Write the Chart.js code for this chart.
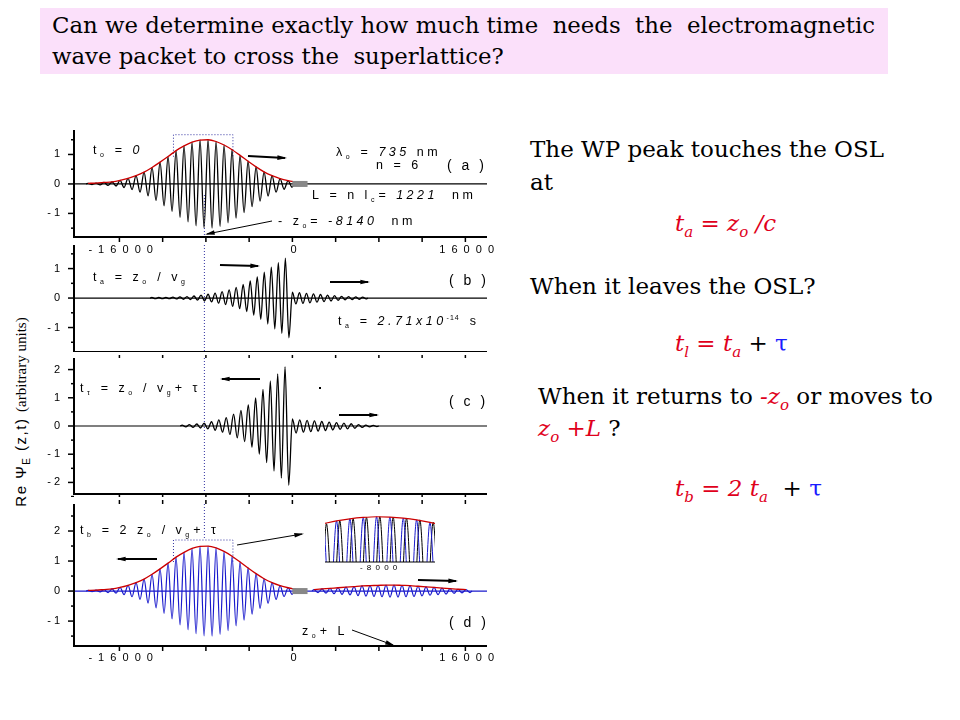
<!DOCTYPE html>
<html><head><meta charset="utf-8">
<script src="https://cdn.jsdelivr.net/npm/chart.js@4/dist/chart.umd.min.js"></script>
<style>
body{margin:0;width:960px;height:720px;background:#fff;position:relative;overflow:hidden;font-family:"DejaVu Serif",serif}
canvas{position:absolute;left:0}
.t{position:absolute;font-size:23px;color:#000;white-space:nowrap}
.r{color:#e0001b;font-style:italic}
.b{color:#1a1aff}
sub{font-size:15px}
</style></head><body>
<div style="position:absolute;left:40px;top:8px;width:836px;height:62px;background:#fbe0fa;padding:2px 0 2px 12px;font-size:22.8px;line-height:31px;white-space:nowrap">Can we determine exactly how much time&nbsp; needs&nbsp; the&nbsp; electromagnetic<br>wave packet to cross the&nbsp; superlattice?</div>
<div class="t" style="left:530px;top:136px">The WP peak touches the OSL</div>
<div class="t" style="left:530px;top:169px">at</div>
<div class="t r" style="left:675px;top:210px">t<sub>a</sub> = z<sub>o</sub> /c</div>
<div class="t" style="left:530px;top:273px">When it leaves the OSL?</div>
<div class="t" style="left:675px;top:330px"><span class="r">t<sub>l</sub> = t<sub>a</sub></span> + <span class="b">τ</span></div>
<div class="t" style="left:538px;top:383px">When it returns to <span class="r">-z<sub>o</sub></span> or moves to</div>
<div class="t" style="left:538px;top:415px"><span class="r">z<sub>o</sub> +L</span> ?</div>
<div class="t" style="left:675px;top:475px"><span class="r">t<sub>b</sub> = 2 t<sub>a</sub></span>&nbsp; + <span class="b">τ</span></div>
<div style="position:absolute;left:-88px;top:402px;width:220px;text-align:center;transform:rotate(-90deg);font-size:15px;font-family:'Liberation Sans';letter-spacing:1.5px;white-space:nowrap">Re Ψ<sub style="font-size:10px">E</sub> (z,t) <span style="font-family:'Liberation Serif';letter-spacing:0">(arbitrary units)</span></div>
<canvas id="ca" width="500" height="140" style="top:120px"></canvas>
<canvas id="cb" width="500" height="112" style="top:240px"></canvas>
<canvas id="cc" width="500" height="142" style="top:355px"></canvas>
<canvas id="cd" width="500" height="170" style="top:500px"></canvas>
<canvas id="ci" width="500" height="60" style="top:510px"></canvas>
<script>
// ---- data ----
const xTicks = [-16000,-12000,-8000,-4000,0,4000,8000,12000,16000];
const xLabels = [-16000,0,16000];
const zo = -8140;
const Lbar = [0,1400];
const periodA = 740, startA = -18900;
const peaksA = [0.02,0.03,0.05,0.07,0.12,0.19,0.28,0.4,0.56,0.74,0.93,1.13,1.29,1.42,1.49,1.5,1.44,1.32,1.16,0.97,0.77,0.58,0.41,0.28,0.18,0.11,0.06];
const periodB = 650, startB = -13000;
const peaksB = [0.02,0.02,0.02,0.03,0.04,0.05,0.07,0.1,0.13,0.17,0.22,0.28,0.36,0.46,0.58,0.72,0.88,1.05,1.2,1.35,0.2,0.18,0.16,0.14,0.12,0.1,0.08,0.06,0.05,0.04,0.03];
const periodC = 680, startC = -10200;
const peaksC = [0.03,0.05,0.07,0.1,0.15,0.22,0.3,0.42,0.55,0.75,1.0,1.3,1.6,1.85,2.1,0.25,0.22,0.2,0.18,0.16,0.14,0.12,0.1,0.08,0.05,0.03,0.02];
const periodD = 740, startD = 2000;
const peaksD = [0.05,0.07,0.09,0.11,0.13,0.15,0.17,0.18,0.19,0.2,0.2,0.19,0.18,0.16,0.14,0.12,0.1,0.08,0.06,0.05];
const startI = -11100;
const peaksI = [1.3,1.38,1.44,1.48,1.5,1.49,1.46,1.41,1.34,1.25];
const peaksIblack = [1.3,1.38,1.44,1.48,1.5,1.49,1.46,1.41,1.34,1.25];

function wave(x0,P,amps){
  const pts=[{x:x0-P/4,y:0}];
  amps.forEach((a,i)=>{pts.push({x:x0+i*P,y:a});pts.push({x:x0+i*P+P/2,y:-a});});
  pts.push({x:x0+(amps.length-1)*P+P*0.75,y:0});
  return pts;
}
function env(x0,P,amps){return amps.map((a,i)=>({x:x0+i*P,y:a}));}
function line(data,color,w,extra){return Object.assign({data,borderColor:color,borderWidth:w,pointRadius:0,cubicInterpolationMode:'monotone',fill:false},extra||{});}

function sp(s){return String(s).split('').join(' ');}
function setF(ctx,o){ctx.font=(o.it?'italic ':'')+(o.size||12)+'px "Liberation Sans"';ctx.letterSpacing=(o.ls==null?2:o.ls)+'px';}
function txt(ctx,s,x,y,o){o=o||{};ctx.save();setF(ctx,o);ctx.fillStyle=o.c||'#000';ctx.textBaseline='middle';ctx.textAlign=o.al||'left';ctx.fillText(s,x,y);ctx.restore();}
function seq(ctx,x,y,parts){ctx.save();ctx.fillStyle='#000';ctx.textBaseline='middle';ctx.textAlign='left';
  parts.forEach(([s,k])=>{k=k||'';const o={size:12.5,ls:3.5,it:k.includes('i')};let dy=0;
    if(k.includes('s')){o.size=7;o.ls=1;dy=4;} if(k.includes('u')){o.size=7;o.ls=1;dy=-4;}
    setF(ctx,o);ctx.fillText(s,x,y+dy);x+=ctx.measureText(s).width+(k.includes('s')||k.includes('u')?3:0);});
  ctx.restore();}
function arrow(ctx,x1,y1,x2,y2,w){ctx.save();ctx.strokeStyle='#000';ctx.fillStyle='#000';ctx.lineWidth=w||2;ctx.beginPath();ctx.moveTo(x1,y1);ctx.lineTo(x2,y2);ctx.stroke();
  const a=Math.atan2(y2-y1,x2-x1),h=8;ctx.beginPath();ctx.moveTo(x2+2*Math.cos(a),y2+2*Math.sin(a));ctx.lineTo(x2-h*Math.cos(a-0.3),y2-h*Math.sin(a-0.3));ctx.lineTo(x2-h*Math.cos(a+0.3),y2-h*Math.sin(a+0.3));ctx.closePath();ctx.fill();ctx.restore();}

function mk(id,top,pad,ymin,ymax,yMajor,yMinor,datasets,opts){
  const deco={id:'deco',
    beforeDatasetsDraw(ch){
      const c=ch.ctx,a=ch.chartArea,xs=ch.scales.x,ys=ch.scales.y;
      c.save();c.strokeStyle=opts.zeroColor||'#000';c.lineWidth=1.2;c.beginPath();c.moveTo(a.left,ys.getPixelForValue(0));c.lineTo(a.right,ys.getPixelForValue(0));c.stroke();
      c.strokeStyle='#3030a0';c.lineWidth=1;c.setLineDash([1,2]);c.beginPath();c.moveTo(xs.getPixelForValue(zo),opts.vTop!=null?opts.vTop-top:a.top);c.lineTo(xs.getPixelForValue(zo),opts.vBot!=null?opts.vBot-top:a.bottom);c.stroke();
      if(opts.box){c.beginPath();const bx1=xs.getPixelForValue(-11000),bx2=xs.getPixelForValue(-5500),by=ys.getPixelForValue(opts.box);c.moveTo(bx1,by+22);c.lineTo(bx1,by);c.lineTo(bx2,by);c.lineTo(bx2,by+22);c.stroke();}
      c.restore();
    },
    afterDatasetsDraw(ch){
      const c=ch.ctx,a=ch.chartArea,xs=ch.scales.x,ys=ch.scales.y;
      c.save();c.strokeStyle='#000';c.lineWidth=2;c.beginPath();c.moveTo(a.left,a.top);c.lineTo(a.left,a.bottom);c.lineTo(a.right,a.bottom);c.stroke();
      c.lineWidth=1.5;
      xTicks.forEach(v=>{const p=xs.getPixelForValue(v);c.beginPath();c.moveTo(p,a.bottom);c.lineTo(p,a.bottom+5);c.stroke();
        if(opts.topTicks){c.beginPath();c.moveTo(p,a.top);c.lineTo(p,a.top-5);c.stroke();}});
      yMinor.forEach(v=>{const p=ys.getPixelForValue(v);c.beginPath();c.moveTo(a.left-3,p);c.lineTo(a.left,p);c.stroke();});
      yMajor.forEach(v=>{const p=ys.getPixelForValue(v);c.beginPath();c.moveTo(a.left-6,p);c.lineTo(a.left,p);c.stroke();txt(c,sp(v),a.left-14,p,{al:'right',size:11,ls:0});});
      if(opts.xlab) xLabels.forEach(v=>txt(c,sp(v),xs.getPixelForValue(v)+2,a.bottom+opts.xlab,{al:'center',size:11,ls:1.5}));
      if(opts.bar){c.fillStyle='#888';const y0=ys.getPixelForValue(0);c.fillRect(xs.getPixelForValue(Lbar[0]),y0-3,xs.getPixelForValue(Lbar[1])-xs.getPixelForValue(Lbar[0]),6);}
      c.translate(0,-top);opts.draw&&opts.draw(c);c.restore();
    }};
  return new Chart(document.getElementById(id),{type:'line',data:{datasets},
    options:{responsive:false,animation:false,devicePixelRatio:1,layout:{padding:pad},
      plugins:{legend:{display:false},tooltip:{enabled:false}},
      scales:{x:{type:'linear',min:-20200,max:18000,display:false},y:{min:ymin,max:ymax,display:false}}},
    plugins:[deco]});
}

mk('ca',120,{left:74,right:13,top:10,bottom:23},-1.8,1.83,[-1,0,1],[-1.5,-0.5,0.5,1.5],
 [line(env(startA,periodA,peaksA),'#cc0000',1.3),line(wave(startA,periodA,peaksA),'#000',1.3)],
 {xlab:13,bar:true,vTop:195,box:1.67,draw(c){
  seq(c,93,151,[['t'],['o','s'],[' = '],['0','i']]);
  seq(c,336,153,[['λ'],['o','s'],[' = '],['735','i'],[' nm']]);
  seq(c,376,166,[['n = 6']]);txt(c,'( a )',447,166,{size:14,ls:3});
  seq(c,312,196,[['L = n l'],['c','s'],['= '],['1221','i'],['  nm']]);
  seq(c,278,222,[['- z'],['o','s'],['= '],['-8140','i'],['  nm']]);
  arrow(c,248,156,285,158);arrow(c,272,221,207,234,1);}});

mk('cb',240,{left:74,right:13,top:5,bottom:0},-1.83,1.8,[-1,0,1],[-1.5,-0.5,0.5,1.5],
 [line(wave(startB,periodB,peaksB),'#000',1.3)],
 {draw(c){
  seq(c,93,278,[['t'],['a','s'],[' = z'],['o','s'],[' / v'],['g','s']]);
  arrow(c,220,265,258,266);arrow(c,330,282,368,282);txt(c,'( b )',449,281,{size:14,ls:3});
  seq(c,338,322,[['t'],['a','s'],[' = '],['2.71x10','i'],['-14','u'],[' s']]);}});

mk('cc',355,{left:74,right:13,top:3,bottom:3},-2.41,2.41,[-2,-1,0,1,2],[-2.5,-1.5,-0.5,0.5,1.5],
 [line(wave(startC,periodC,peaksC),'#000',1.3)],
 {topTicks:true,draw(c){
  seq(c,80,389,[['t'],['τ','s'],[' = z'],['o','s'],[' / v'],['g','s'],['+ τ']]);
  arrow(c,260,379,222,379);c.fillRect(319,387,2,2);txt(c,'( c )',449,402,{size:14,ls:3});arrow(c,339,415,377,415);}});

mk('cd',500,{left:74,right:13,top:4,bottom:24},-1.83,2.9,[-1,0,1,2],[-1.5,-0.5,0.5,1.5,2.5],
 [line(env(startA,periodA,peaksA),'#cc0000',1.3),line(env(startD,periodD,peaksD),'#cc0000',1.3),
  line(wave(startA,periodA,peaksA),'#1a1acc',1.2),line(wave(startD,periodD,peaksD),'#1a1acc',1.2)],
 {xlab:12,bar:true,zeroColor:'#1a1acc',vBot:540,box:1.7,topTicks:true,draw(c){
  seq(c,80,531,[['t'],['b','s'],[' = 2 z'],['o','s'],[' / v'],['g','s'],['+ τ']]);
  arrow(c,157,559,118,559);arrow(c,237,545,302,534,1);arrow(c,418,580,456,581);txt(c,'( d )',449,623,{size:14,ls:3});
  seq(c,302,632,[['z'],['o','s'],['+ L']]);arrow(c,352,630,393,645,1);}});

new Chart(document.getElementById('ci'),{type:'line',
 data:{datasets:[line(env(startI,periodA,peaksI),'#cc0000',1.2),line(wave(startI,periodA,peaksI),'#1a1acc',1),line(wave(startI+180,periodA,peaksIblack),'#000',1)]},
 options:{responsive:false,animation:false,devicePixelRatio:1,layout:{padding:{left:325,right:65,top:5,bottom:8}},plugins:{legend:{display:false},tooltip:{enabled:false}},
  scales:{x:{type:'linear',min:-11000,max:-4900,display:false},y:{min:0.2,max:1.55,display:false}}},
 plugins:[{id:'ib',beforeDatasetsDraw(ch){ch.ctx.save();const a=ch.chartArea;ch.ctx.beginPath();ch.ctx.rect(a.left,a.top-4,a.width,a.height+4);ch.ctx.clip();},
  afterDatasetsDraw(ch){const c=ch.ctx,a=ch.chartArea;c.restore();c.save();c.strokeStyle='#000';c.lineWidth=1;c.beginPath();c.moveTo(a.left,a.bottom);c.lineTo(a.right,a.bottom);c.stroke();
   txt(c,'- 8 0 0 0',ch.scales.x.getPixelForValue(-8000),a.bottom+6,{al:'center',size:8,ls:1});c.restore();}}]});
</script></body></html>
